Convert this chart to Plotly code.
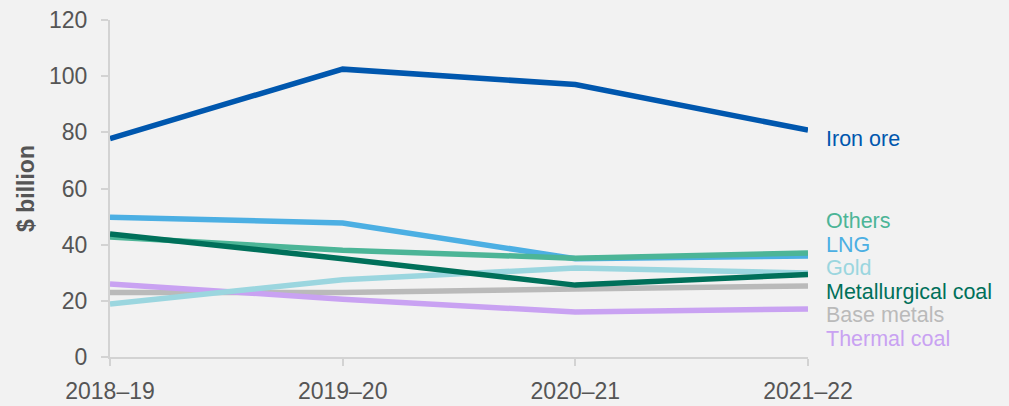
import plotly.graph_objects as go

years = ["2018–19", "2019–20", "2020–21", "2021–22"]
series_names = ["Base metals", "Thermal coal", "Gold", "LNG", "Others", "Metallurgical coal", "Iron ore"]
iron_ore = [77.8, 102.5, 97.0, 80.8]
lng = [49.8, 47.7, 35.0, 36.0]
others = [42.7, 38.0, 35.2, 37.0]
gold = [18.9, 27.5, 31.7, 29.9]
met_coal = [43.8, 35.0, 25.6, 29.4]
base_metals = [23.0, 23.0, 24.2, 25.3]
thermal_coal = [26.0, 20.6, 16.0, 17.1]

values = {
    "Iron ore": iron_ore, "LNG": lng, "Others": others, "Gold": gold,
    "Metallurgical coal": met_coal, "Base metals": base_metals, "Thermal coal": thermal_coal,
}
colors = {
    "Iron ore": "#0057ae", "LNG": "#4cafe3", "Others": "#4cb597", "Gold": "#9bd6df",
    "Metallurgical coal": "#00705a", "Base metals": "#bababa", "Thermal coal": "#c9a2f2",
}
# label vertical positions (in y data units) for the right-hand labels
label_order = ["Iron ore", "Others", "LNG", "Gold", "Metallurgical coal", "Base metals", "Thermal coal"]
label_y = [77.8, 48.4, 40.0, 31.6, 23.3, 14.9, 6.4]

x = list(range(len(years)))
fig = go.Figure()
for name in series_names:
    fig.add_trace(go.Scatter(x=x, y=values[name], mode="lines", name=name,
                             line=dict(color=colors[name], width=5.5), showlegend=False))

for name, ly in zip(label_order, label_y):
    fig.add_annotation(x=3, y=ly, xref="x", yref="y", text=name, showarrow=False,
                       xanchor="left", xshift=16, font=dict(color=colors[name], size=21.5))

axcol = "#d3d3d3"
fig.update_layout(
    width=1009, height=406,
    paper_bgcolor="#f2f2f2", plot_bgcolor="#f2f2f2",
    margin=dict(l=110, r=201, t=20, b=49),
    font=dict(family="Liberation Sans, Arial, sans-serif", color="#555555"),
    xaxis=dict(range=[0, 3], tickvals=x, ticktext=years, showgrid=False, zeroline=False,
               showline=True, linecolor=axcol, linewidth=2, ticks="outside", ticklen=7,
               tickcolor=axcol, tickwidth=2, ticklabelstandoff=5, automargin=False,
               tickfont=dict(size=23, color="#555555")),
    yaxis=dict(range=[0, 120], dtick=20, showgrid=False, zeroline=False,
               showline=True, linecolor=axcol, linewidth=2, ticks="outside", ticklen=7,
               tickcolor=axcol, tickwidth=2, ticklabelstandoff=9, automargin=False,
               tickfont=dict(size=23, color="#555555"),
               title=dict(text="<b>$ billion</b>", font=dict(size=23, color="#555555"), standoff=8)),
)
fig.write_html("out.html")
